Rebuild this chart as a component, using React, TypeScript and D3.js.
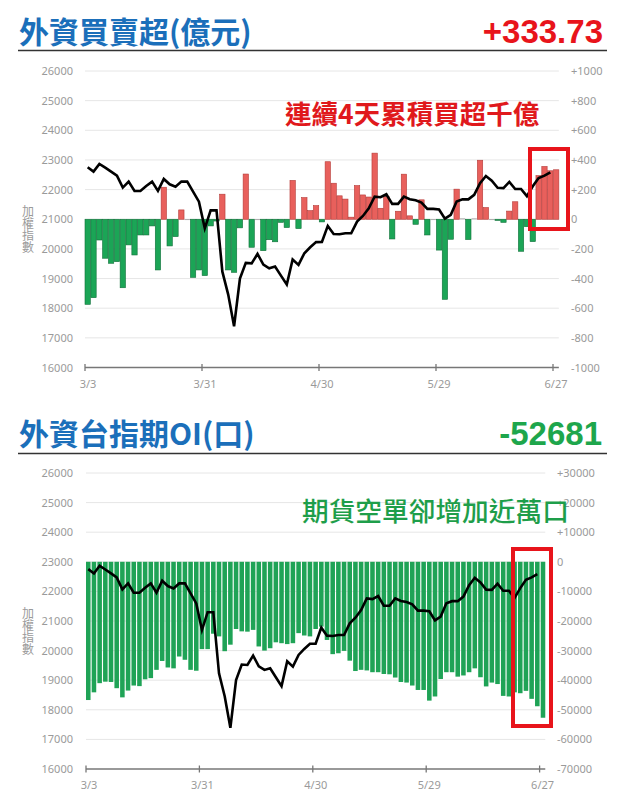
import React from "react";
import * as d3 from "d3";

const dates = [
  "3/3","3/4","3/5","3/6","3/7","3/10","3/11","3/12","3/13","3/14","3/17","3/18","3/19","3/20","3/21","3/24","3/25","3/26","3/27","3/28","3/31",
  "4/1","4/2","4/7","4/8","4/9","4/10","4/11","4/14","4/15","4/16","4/17","4/18","4/21","4/22","4/23","4/24","4/25","4/28","4/29","4/30",
  "5/2","5/5","5/6","5/7","5/8","5/9","5/12","5/13","5/14","5/15","5/16","5/19","5/20","5/21","5/22","5/23","5/26","5/27","5/28","5/29",
  "6/2","6/3","6/4","6/5","6/6","6/9","6/10","6/11","6/12","6/13","6/16","6/17","6/18","6/19","6/20","6/23","6/24","6/25","6/26","6/27",
];
const tickDates = ["3/3", "3/31", "4/30", "5/29", "6/27"];

const taiex = [
  22753,22607,22865,22740,22607,22472,22067,22270,21955,21955,22124,22270,21955,22360,22180,22100,22270,22270,21930,21595,20695,
  21298,21298,19232,18459,17392,19001,19528,19513,19830,19470,19348,19404,19100,18800,19640,19460,19854,20056,20230,20235,
  20775,20505,20494,20528,20528,20921,21112,21370,21764,21741,21843,21517,21517,21764,21674,21640,21560,21350,21350,21330,
  21020,21150,21600,21670,21670,21825,22213,22460,22300,22060,22050,22260,22020,22020,21780,22112,22393,22472,22584,
];

const foreignNet = [
  -574,-529,-140,-263,-297,-286,-462,-173,-241,-106,-106,-45,-342,216,-180,-117,63,-4,-392,-342,-380,
  -45,-12,169,-342,-358,-58,305,-189,-3,-212,-138,-152,-21,-56,262,-63,146,58,92,-18,
  388,243,158,136,14,227,164,150,446,74,153,-133,54,304,23,-34,131,-106,-4,-208,
  -540,-135,203,3,-137,2,398,79,-3,-8,-21,55,118,-216,-50,-151,294,356,327,333.73,
];

const foreignOI = [
  -46700,-44100,-41000,-40500,-40600,-42700,-45800,-43500,-41800,-42000,-39700,-39300,-36500,-33500,-35700,-36000,-32000,-33100,-36500,-36800,-29500,
  -29500,-24300,-25200,-30200,-28000,-22700,-23500,-23600,-23000,-28600,-30000,-29200,-27200,-27500,-27800,-27500,-24100,-24900,-25200,-22700,
  -21900,-26400,-31200,-30900,-30100,-33400,-36900,-36500,-36700,-37300,-37300,-37900,-38000,-39100,-40600,-40800,-41800,-43300,-43300,-46900,
  -45500,-39600,-37300,-37300,-38800,-38400,-37300,-36000,-39000,-42100,-40800,-41300,-45300,-45500,-44100,-44400,-43600,-46300,-48800,-52681,
];

const leftTicks = [16000,17000,18000,19000,20000,21000,22000,23000,24000,25000,26000];
const rightTicksTop = [-1000,-800,-600,-400,-200,0,200,400,600,800,1000];
const rightTicksBottom = [-70000,-60000,-50000,-40000,-30000,-20000,-10000,0,10000,20000,30000];
const yTitle = "加權指數";

const fmtSigned = (v: number) => (v > 0 ? "+" + v : String(v));

const AXIS_FONT = "'Noto Sans', 'Open Sans', sans-serif";
const CJK_FONT = "'Noto Sans CJK TC', 'Noto Sans', sans-serif";
const NUM_FONT = "'Liberation Sans', Arial, sans-serif";
const GRAY = "#9a9a9a";

function Frame({ top, bottom, x0, step, rightLabelX, rightTicks, yRight }: any) {
  const yLeft = d3.scaleLinear().domain([16000, 26000]).range([bottom, top]);
  const x1 = x0 + step * dates.length;
  const midY = (top + bottom) / 2;
  return (
    <g>
      {leftTicks.map((t) => (
        <g key={"g" + t}>
          {t !== 16000 && (
            <line x1={x0} x2={x1} y1={yLeft(t)} y2={yLeft(t)} stroke="#e6e6e6" strokeWidth={1} />
          )}
          <text x={73} y={yLeft(t) + 4} textAnchor="end" fontSize={11} fill={GRAY} fontFamily={AXIS_FONT}>
            {t}
          </text>
        </g>
      ))}
      {rightTicks.map((t: number) => (
        <text key={"r" + t} x={rightLabelX} y={yRight(t) + 4} textAnchor="start" fontSize={11} fill={GRAY} fontFamily={AXIS_FONT}>
          {fmtSigned(t)}
        </text>
      ))}
      <text
        x={28}
        y={midY - 14}
        fontSize={12}
        fill={GRAY}
        fontFamily={CJK_FONT}
        style={{ writingMode: "vertical-rl" as any }}
      >
        {yTitle}
      </text>
      <line x1={x0} x2={x1} y1={bottom} y2={bottom} stroke="#777" strokeWidth={1.3} />
      {tickDates.map((d) => {
        const i = dates.indexOf(d);
        const tx = x0 + step * i;
        return (
          <g key={d}>
            <line x1={tx} x2={tx} y1={bottom - 3.5} y2={bottom + 3.5} stroke="#777" strokeWidth={1.3} />
            <text x={tx + 3} y={bottom + 20} textAnchor="middle" fontSize={11} fill={GRAY} fontFamily={AXIS_FONT}>
              {d}
            </text>
          </g>
        );
      })}
    </g>
  );
}

export default function App() {
  // ---------- top panel ----------
  const t = { top: 71, bottom: 367.5, x0: 85, step: 5.85 };
  const xT = d3
    .scaleBand<number>()
    .domain(d3.range(dates.length))
    .range([t.x0, t.x0 + t.step * dates.length])
    .paddingInner(0.09)
    .paddingOuter(0)
    .align(0);
  const yTL = d3.scaleLinear().domain([16000, 26000]).range([t.bottom, t.top]);
  const yTR = d3.scaleLinear().domain([-1000, 1000]).range([t.bottom, t.top]);
  const lineT = d3
    .line<number>()
    .x((_, i) => (xT(i) as number) + xT.bandwidth() / 2)
    .y((v) => yTL(v));

  // ---------- bottom panel ----------
  const b = { top: 473, bottom: 769, x0: 86, step: 5.67 };
  const xB = d3
    .scaleBand<number>()
    .domain(d3.range(dates.length))
    .range([b.x0, b.x0 + b.step * dates.length])
    .paddingInner(0.2)
    .paddingOuter(0)
    .align(0);
  const yBL = d3.scaleLinear().domain([16000, 26000]).range([b.bottom, b.top]);
  const yBR = d3.scaleLinear().domain([-70000, 30000]).range([b.bottom, b.top]);
  const lineB = d3
    .line<number>()
    .x((_, i) => (xB(i) as number) + xB.bandwidth() / 2)
    .y((v) => yBL(v));

  return (
    <svg
      width={626}
      height={800}
      viewBox="0 0 626 800"
      style={{ position: "absolute", left: 0, top: 0, background: "#fff" }}
    >
      <rect x={0} y={0} width={626} height={800} fill="#fff" />

      {/* ---- Top header ---- */}
      <text x={19} y={43} fontSize={30} fontWeight={700} fill="#1b6fba" fontFamily={CJK_FONT}>
        外資買賣超(億元)
      </text>
      <text x={603} y={43} textAnchor="end" fontSize={33} fontWeight={700} fill="#e8141b" fontFamily={NUM_FONT}>
        +333.73
      </text>
      <line x1={18} x2={607} y1={50.5} y2={50.5} stroke="#333" strokeWidth={1.6} />

      <Frame top={t.top} bottom={t.bottom} x0={t.x0} step={t.step} rightLabelX={571} rightTicks={rightTicksTop} yRight={yTR} />

      {foreignNet.map((v, i) => {
        const y0 = yTR(0);
        const y1 = yTR(v);
        const h = Math.max(Math.abs(y1 - y0), 0.8);
        const pos = v >= 0;
        return (
          <rect
            key={"bt" + i}
            x={xT(i) as number}
            y={pos ? y0 - h : y0}
            width={xT.bandwidth()}
            height={h}
            fill={Math.abs(v) < 6 ? "#9a9a9a" : pos ? "#e8605c" : "#1ba556"}
            stroke={Math.abs(v) < 6 ? "none" : pos ? "#b53a37" : "#11703a"}
            strokeWidth={0.6}
          />
        );
      })}
      <path d={lineT(taiex) as string} fill="none" stroke="#000" strokeWidth={2.6} strokeLinejoin="miter" />

      <text x={285} y={124} fontSize={26.5} fontWeight={700} fill="#e0191c" fontFamily={CJK_FONT}>
        連續4天累積買超千億
      </text>
      <rect x={530} y={149} width={38} height={80} fill="none" stroke="#e8141b" strokeWidth={4} />

      {/* ---- Bottom header ---- */}
      <text x={19} y={445} fontSize={30} fontWeight={700} fill="#1b6fba" fontFamily={CJK_FONT}>
        外資台指期OI(口)
      </text>
      <text x={602} y={445} textAnchor="end" fontSize={33} fontWeight={700} fill="#1ea64c" fontFamily={NUM_FONT}>
        -52681
      </text>
      <line x1={18} x2={607} y1={453.5} y2={453.5} stroke="#333" strokeWidth={1.6} />

      <Frame top={b.top} bottom={b.bottom} x0={b.x0} step={b.step} rightLabelX={557} rightTicks={rightTicksBottom} yRight={yBR} />

      {foreignOI.map((v, i) => {
        const y0 = yBR(0);
        const y1 = yBR(v);
        return (
          <rect
            key={"bb" + i}
            x={xB(i) as number}
            y={Math.min(y0, y1)}
            width={xB.bandwidth()}
            height={Math.abs(y1 - y0)}
            fill="#1fa356"
          />
        );
      })}
      <path d={lineB(taiex) as string} fill="none" stroke="#000" strokeWidth={2.6} strokeLinejoin="miter" />

      <text x={302} y={521} fontSize={26.7} fontWeight={500} fill="#1e9e4a" fontFamily={CJK_FONT}>
        期貨空單卻增加近萬口
      </text>
      <rect x={513} y={549} width={38} height={177} fill="none" stroke="#e8141b" strokeWidth={4} />
    </svg>
  );
}
